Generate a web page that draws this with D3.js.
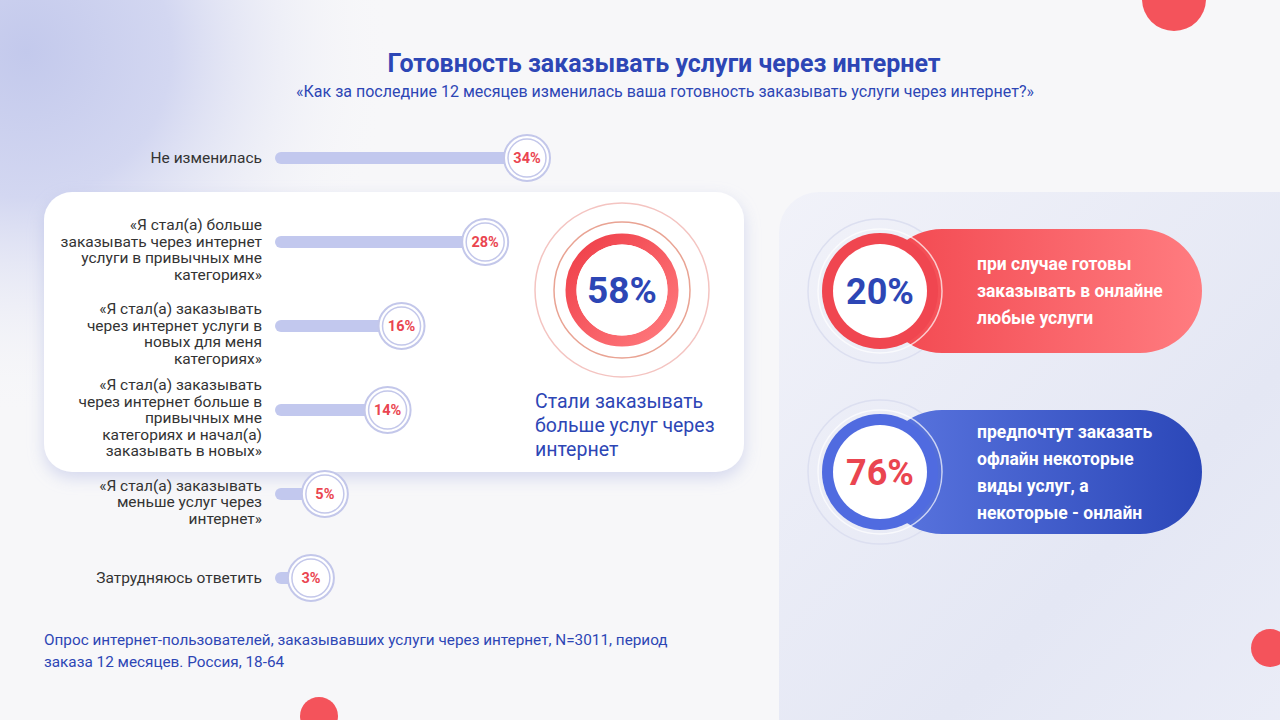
<!DOCTYPE html>
<html>
<head>
<meta charset="utf-8">
<script src="https://cdn.jsdelivr.net/npm/d3@7"></script>
<style>
  html, body { margin: 0; padding: 0; background: #f7f7f9; }
  svg { display: block; font-family: Roboto, 'Noto Sans', sans-serif; }
</style>
</head>
<body>
<div class="canvas"></div>
<script>
const dims = { width: 1280, height: 720 }

// data
const title = 'Готовность заказывать услуги через интернет'
const subtitle = '«Как за последние 12 месяцев изменилась ваша готовность заказывать услуги через интернет?»'
const categories = [
  ['Не изменилась'],
  ['«Я стал(а) больше', 'заказывать через интернет', 'услуги в привычных мне', 'категориях»'],
  ['«Я стал(а) заказывать', 'через интернет услуги в', 'новых для меня', 'категориях»'],
  ['«Я стал(а) заказывать', 'через интернет больше в', 'привычных мне', 'категориях и начал(а)', 'заказывать в новых»'],
  ['«Я стал(а) заказывать', 'меньше услуг через', 'интернет»'],
  ['Затрудняюсь ответить']
]
const values = [34, 28, 16, 14, 5, 3]
const groupedRows = [1, 2, 3]   // rows inside the white panel
const groupValue = 58
const groupLabel = ['Стали заказывать', 'больше услуг через', 'интернет']
const calloutValues = [20, 76]
const calloutTexts = [
  ['при случае готовы', 'заказывать в онлайне', 'любые услуги'],
  ['предпочтут заказать', 'офлайн некоторые', 'виды услуг, а', 'некоторые - онлайн']
]
const footnote = ['Опрос интернет-пользователей, заказывавших услуги через интернет, N=3011, период',
                  'заказа 12 месяцев. Россия, 18-64']

const blue = '#2d46b5'
const red = '#ea4550'

const svg = d3.select('.canvas')
              .append('svg')
              .attr('width', dims.width)
              .attr('height', dims.height)

const defs = svg.append('defs')

// background blob top-left
const blob = defs.append('radialGradient').attr('id', 'blob')
                 .attr('cx', 0.05).attr('cy', 0.1).attr('r', 0.7)
blob.append('stop').attr('offset', '0%').attr('stop-color', '#c3c9ec')
blob.append('stop').attr('offset', '40%').attr('stop-color', '#d3d7f1')
blob.append('stop').attr('offset', '100%').attr('stop-color', '#f7f7f9').attr('stop-opacity', 0)

const panelGrad = defs.append('linearGradient').attr('id', 'panelGrad')
                      .attr('x1', 0).attr('y1', 0).attr('x2', 1).attr('y2', 1)
panelGrad.append('stop').attr('offset', '0%').attr('stop-color', '#f1f2f9')
panelGrad.append('stop').attr('offset', '60%').attr('stop-color', '#e4e7f4')
panelGrad.append('stop').attr('offset', '100%').attr('stop-color', '#eceef8')

const redGrad = defs.append('linearGradient').attr('id', 'redGrad')
redGrad.append('stop').attr('offset', '0%').attr('stop-color', '#f2474f')
redGrad.append('stop').attr('offset', '100%').attr('stop-color', '#ff7c80')

const blueGrad = defs.append('linearGradient').attr('id', 'blueGrad')
blueGrad.append('stop').attr('offset', '0%').attr('stop-color', '#5b76e0')
blueGrad.append('stop').attr('offset', '100%').attr('stop-color', '#2b47b8')

const ringGrad = defs.append('linearGradient').attr('id', 'ringGrad')
                     .attr('x1', 0).attr('y1', 0).attr('x2', 1).attr('y2', 1)
ringGrad.append('stop').attr('offset', '0%').attr('stop-color', '#ef3e48')
ringGrad.append('stop').attr('offset', '100%').attr('stop-color', '#ff7a7e')

const shadow = defs.append('filter').attr('id', 'shadow')
                   .attr('x', '-10%').attr('y', '-10%').attr('width', '120%').attr('height', '130%')
shadow.append('feDropShadow').attr('dx', 0).attr('dy', 6).attr('stdDeviation', 8)
      .attr('flood-color', '#aab2e0').attr('flood-opacity', 0.45)

svg.append('rect').attr('width', dims.width).attr('height', dims.height).attr('fill', '#f7f7f9')
svg.append('rect').attr('width', 520).attr('height', 520).attr('fill', 'url(#blob)')

// right panel
svg.append('rect')
   .attr('x', 779).attr('y', 192)
   .attr('width', 560).attr('height', 580)
   .attr('rx', 40)
   .attr('fill', 'url(#panelGrad)')

// title
svg.append('text')
   .attr('x', 664).attr('y', 72)
   .attr('text-anchor', 'middle')
   .attr('fill', blue)
   .attr('font-size', 25).attr('font-weight', 700)
   .text(title)

svg.append('text')
   .attr('x', 665).attr('y', 97)
   .attr('text-anchor', 'middle')
   .attr('fill', blue)
   .attr('font-size', 16)
   .text(subtitle)

// scales
const x = d3.scaleLinear().domain([0, d3.max(values)]).range([290, 527])
const y = d3.scalePoint().domain(d3.range(values.length)).range([158, 578])

// white highlight panel
const panelTop = y(groupedRows[0]) - 50
const panelBottom = y(groupedRows[groupedRows.length - 1]) + 62
svg.append('rect')
   .attr('x', 44).attr('y', panelTop)
   .attr('width', 700).attr('height', panelBottom - panelTop)
   .attr('rx', 28)
   .attr('fill', '#ffffff')
   .attr('filter', 'url(#shadow)')

// rows
const rows = svg.append('g').selectAll('.row')
                .data(values)
                .enter()
                .append('g')
                .attr('class', 'row')
                .attr('transform', (d, i) => `translate(0, ${y(i)})`)

rows.append('line')
    .attr('x1', 281).attr('x2', d => x(d))
    .attr('y1', 0).attr('y2', 0)
    .attr('stroke', '#c2c8ee')
    .attr('stroke-width', 12)
    .attr('stroke-linecap', 'round')

rows.append('circle')
    .attr('cx', d => x(d)).attr('r', 23)
    .attr('fill', '#ffffff')
    .attr('stroke', '#c3c7ea').attr('stroke-width', 2)

rows.append('circle')
    .attr('cx', d => x(d)).attr('r', 19)
    .attr('fill', '#ffffff')
    .attr('stroke', '#c3c7ea').attr('stroke-width', 1.5)

rows.append('text')
    .attr('x', d => x(d)).attr('y', 5)
    .attr('text-anchor', 'middle')
    .attr('fill', red)
    .attr('font-size', 14.5).attr('font-weight', 700)
    .text(d => d + '%')

// category labels
rows.each(function (d, i) {
  const lines = categories[i]
  const n = lines.length
  const off = n > 1 ? 8 : 0
  d3.select(this).append('text')
    .attr('text-anchor', 'end')
    .attr('fill', '#333')
    .attr('font-size', 15.5)
    .selectAll('tspan')
    .data(lines)
    .enter()
    .append('tspan')
    .attr('x', 262)
    .attr('y', (l, j) => (j - (n - 1) / 2) * 16.5 + off + 5)
    .text(l => l)
})

// group 58% rings
const gc = svg.append('g').attr('transform', 'translate(622, 290)')
gc.append('circle').attr('r', 87).attr('fill', 'none').attr('stroke', '#f4c4c1').attr('stroke-width', 1.5)
gc.append('circle').attr('r', 68).attr('fill', 'none').attr('stroke', '#e9a393').attr('stroke-width', 1.5)
gc.append('circle').attr('r', 51).attr('fill', 'none').attr('stroke', 'url(#ringGrad)').attr('stroke-width', 11)
gc.append('circle').attr('r', 45.5).attr('fill', '#ffffff')
gc.append('text')
  .attr('y', 13)
  .attr('text-anchor', 'middle')
  .attr('fill', blue)
  .attr('font-size', 37).attr('font-weight', 700)
  .text(groupValue + '%')

svg.append('text')
   .attr('fill', blue)
   .attr('font-size', 19.5)
   .selectAll('tspan')
   .data(groupLabel)
   .enter()
   .append('tspan')
   .attr('x', 535)
   .attr('y', (d, i) => 408 + i * 24)
   .text(d => d)

// callouts
const cy = d3.scalePoint().domain(d3.range(calloutValues.length)).range([291, 472])
const pillFill = ['url(#redGrad)', 'url(#blueGrad)']
const ringFill = ['#f04650', '#506be0']
const numColor = [blue, red]

const callouts = svg.append('g').selectAll('.callout')
                    .data(calloutValues)
                    .enter()
                    .append('g')
                    .attr('class', 'callout')
                    .attr('transform', (d, i) => `translate(880, ${cy(i)})`)

callouts.append('circle').attr('r', 72).attr('fill', 'none').attr('stroke', '#dcdff0').attr('stroke-width', 1.5)
callouts.append('rect')
        .attr('x', 0).attr('y', -62)
        .attr('width', 322).attr('height', 124)
        .attr('rx', 62)
        .attr('fill', (d, i) => pillFill[i])
callouts.append('circle').attr('r', 58).attr('fill', (d, i) => ringFill[i])
callouts.append('circle').attr('r', 62).attr('fill', 'none').attr('stroke', '#ffffff').attr('stroke-opacity', 0.7).attr('stroke-width', 1.5)
callouts.append('circle').attr('r', 47).attr('fill', '#ffffff')
callouts.append('text')
        .attr('y', 13)
        .attr('text-anchor', 'middle')
        .attr('fill', (d, i) => numColor[i])
        .attr('font-size', 36).attr('font-weight', 700)
        .text(d => d + '%')

callouts.each(function (d, i) {
  const lines = calloutTexts[i]
  const n = lines.length
  d3.select(this).append('text')
    .attr('fill', '#ffffff')
    .attr('font-size', 17.5).attr('font-weight', 700)
    .selectAll('tspan')
    .data(lines)
    .enter()
    .append('tspan')
    .attr('x', 97)
    .attr('y', (l, j) => (j - (n - 1) / 2) * 27 + 6)
    .text(l => l)
})

// footnote
svg.append('text')
   .attr('fill', blue)
   .attr('font-size', 15.3)
   .selectAll('tspan')
   .data(footnote)
   .enter()
   .append('tspan')
   .attr('x', 44)
   .attr('y', (d, i) => 645 + i * 22)
   .text(d => d)

// decorative dots
svg.append('circle').attr('cx', 1174).attr('cy', -1).attr('r', 32).attr('fill', '#f4535b')
svg.append('circle').attr('cx', 1270).attr('cy', 648).attr('r', 19).attr('fill', '#f4535b')
svg.append('circle').attr('cx', 319).attr('cy', 716).attr('r', 19).attr('fill', '#f4535b')
</script>
</body>
</html>
